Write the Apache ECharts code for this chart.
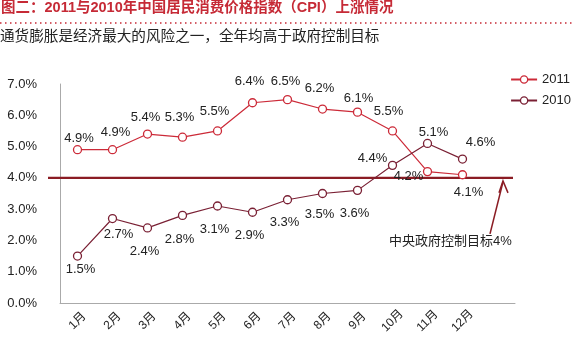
<!DOCTYPE html>
<html><head><meta charset="utf-8">
<script src="https://cdn.jsdelivr.net/npm/echarts@6/dist/echarts.min.js"></script>
<style>html,body{margin:0;padding:0;background:#fff}#c{width:575px;height:361px}</style>
</head><body><div id="c"></div>
<script>
var months = ['1月','2月','3月','4月','5月','6月','7月','8月','9月','10月','11月','12月',''];
var cpi2011 = [4.9,4.9,5.4,5.3,5.5,6.4,6.5,6.2,6.1,5.5,4.2,4.1];
var cpi2010 = [1.5,2.7,2.4,2.8,3.1,2.9,3.3,3.5,3.6,4.4,5.1,4.6];
var target = 4;
// label centre offsets relative to each point
var off2011 = [[1.5,-11],[3,-17],[-2,-17],[-3,-20],[-3,-20],[-3,-21],[-2,-18],[-3,-21],[1,-14],[-4,-20],[-19,5],[6,18]];
var off2010 = [[3,13],[6,16],[-3,24],[-3,24],[-3,23],[-3,23],[-3,23],[-3,21],[-3,23],[-20,-7],[6,-11],[18,-17]];
var FONT = 'Liberation Sans, Noto Sans CJK SC, sans-serif';
function build(vals,offs){
  return vals.map(function(v,i){return {value:v,label:{position:'inside',offset:offs[i]}};});
}
function pct(p){return p.value.toFixed(1)+'%';}
var chart = echarts.init(document.getElementById('c'));
chart.setOption({
  animation:false,
  textStyle:{fontFamily:FONT},
  title:[
    {text:'图二：2011与2010年中国居民消费价格指数（CPI）上涨情况',left:1,top:1,padding:0,
     textStyle:{color:'#c62a36',fontSize:14.5,fontWeight:'bold',fontFamily:FONT}},
    {text:'通货膨胀是经济最大的风险之一，全年均高于政府控制目标',left:0,top:30,padding:0,
     textStyle:{color:'#222',fontSize:14.6,fontWeight:'normal',fontFamily:FONT}}
  ],
  legend:{orient:'vertical',right:4,top:73,itemWidth:26,itemHeight:9,itemGap:8,padding:0,
    itemStyle:{color:'#fff',borderWidth:1.3},
    textStyle:{fontSize:13,color:'#222',fontFamily:FONT},data:['2011','2010']},
  grid:{left:60,right:60,top:84,bottom:58},
  xAxis:{type:'category',data:months,boundaryGap:true,
    axisLine:{lineStyle:{color:'#aaa',width:1}},axisTick:{show:false},
    axisLabel:{rotate:45,fontSize:12,color:'#222',margin:18,interval:0,align:'center',verticalAlign:'middle'}},
  yAxis:{type:'value',min:0,max:7,interval:1,
    axisLine:{show:true,lineStyle:{color:'#aaa'}},axisTick:{show:false},splitLine:{show:false},
    axisLabel:{formatter:function(v){return v.toFixed(1)+'%';},fontSize:13,color:'#222',margin:23}},
  series:[
    {name:'2011',type:'line',data:build(cpi2011,off2011),symbol:'circle',symbolSize:8,
     itemStyle:{color:'#fff',borderColor:'#cc2a38',borderWidth:1.3},
     lineStyle:{color:'#cc2a38',width:1.2},
     label:{show:true,fontSize:13,color:'#222',formatter:pct}},
    {name:'2010',type:'line',data:build(cpi2010,off2010),symbol:'circle',symbolSize:8,
     itemStyle:{color:'#fff',borderColor:'#7a2034',borderWidth:1.3},
     lineStyle:{color:'#7a2034',width:1.2},
     label:{show:true,fontSize:13,color:'#222',formatter:pct}}
  ]
});
var yT = chart.convertToPixel({yAxisIndex:0}, target);
chart.setOption({
  graphic:[
    {type:'line',z:1,shape:{x1:0,y1:23,x2:575,y2:23},style:{stroke:'#c62a36',lineWidth:1.5,lineDash:[1.5,3.5]}},
    {type:'line',z:1,shape:{x1:48,y1:yT,x2:513,y2:yT},style:{stroke:'#8b1c24',lineWidth:2.4}},
    {type:'line',shape:{x1:490,y1:yT+56,x2:503,y2:yT+4},style:{stroke:'#8b1c24',lineWidth:1.5}},
    {type:'polyline',shape:{points:[[499,yT+15],[503,yT+3],[508,yT+15]]},style:{stroke:'#8b1c24',lineWidth:1.5,fill:null}},
    {type:'text',left:389,top:yT+57,style:{text:'中央政府控制目标4%',fontSize:13,fill:'#222',fontFamily:FONT}}
  ]
});
</script></body></html>
